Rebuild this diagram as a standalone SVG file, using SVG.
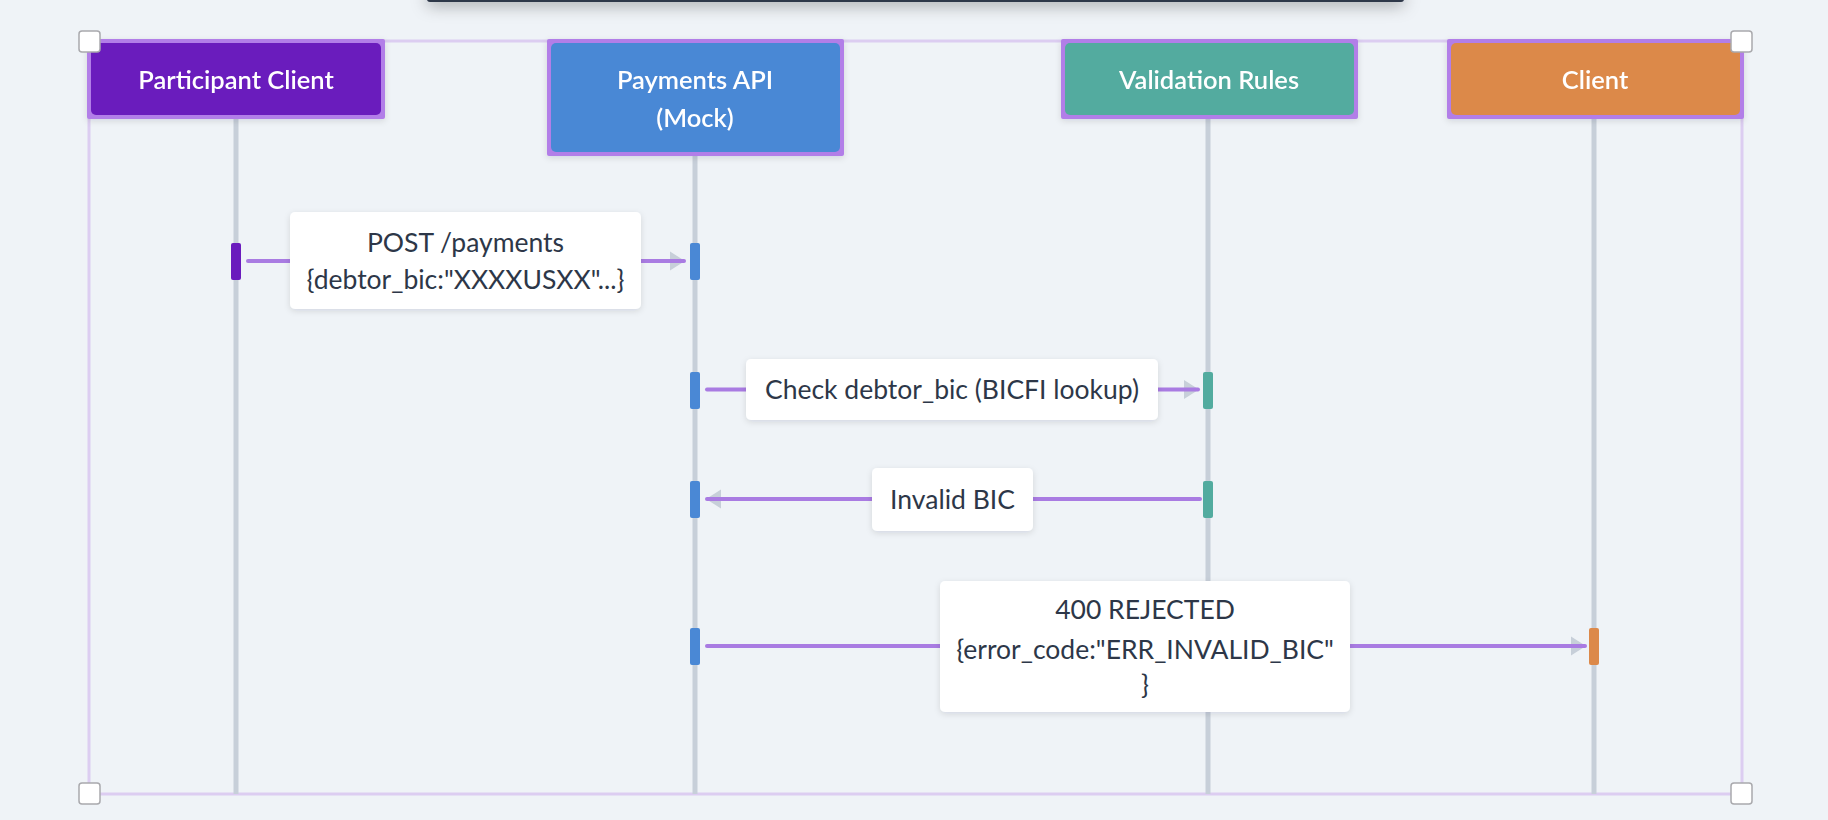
<svg xmlns="http://www.w3.org/2000/svg" width="1828" height="820" viewBox="0 0 1828 820">
<defs>
<filter id="sh" x="-10%" y="-10%" width="120%" height="140%">
<feDropShadow dx="0" dy="2" stdDeviation="3" flood-color="#1a202c" flood-opacity="0.12"/>
</filter>
<filter id="tsh" x="-5%" y="-100%" width="110%" height="500%">
<feDropShadow dx="0" dy="4" stdDeviation="8" flood-color="#000" flood-opacity="0.3"/>
</filter>
<style>
.bg{fill:#eff3f7}
.frame{fill:none;stroke:#dccdf1;stroke-width:3}
.handle{fill:#fff;stroke:#a9a9ad;stroke-width:1.5}
.hdr-border{fill:#b27ee8}
.hdr-text{font-family:Lato,"Open Sans","Liberation Sans",sans-serif;font-size:25.5px;font-weight:600;fill:#fff;text-anchor:middle}
.life{stroke:#c7cfd9;stroke-width:5}
.msg{stroke:#a97be2;stroke-width:4;stroke-linecap:round;fill:none}
.head{fill:#c7cfd9}
.lbl{fill:#fff;filter:url(#sh)}
.lbl-text{font-family:Lato,"Open Sans","Liberation Sans",sans-serif;font-size:26.5px;fill:#2d3748;text-anchor:middle}
</style>
</defs>
<rect class="bg" x="0" y="0" width="1828" height="820"/>
<rect x="427" y="-12" width="977" height="14" rx="3" fill="#2d3748" filter="url(#tsh)"/>
<rect class="frame" x="89" y="41" width="1653" height="753"/>
<g id="lifelines">
<line class="life" x1="236" y1="118" x2="236" y2="794"/>
<line class="life" x1="695" y1="155" x2="695" y2="794"/>
<line class="life" x1="1208" y1="118" x2="1208" y2="794"/>
<line class="life" x1="1594" y1="118" x2="1594" y2="794"/>
</g>
<g id="participant-client" filter="url(#sh)">
<rect class="hdr-border" x="87" y="39" width="298" height="80" rx="2"/>
<rect x="91" y="43" width="290" height="72" rx="5" fill="#6a1bbd"/>
<text class="hdr-text" x="236" y="88.5">Participant Client</text>
</g>
<g id="payments-api" filter="url(#sh)">
<rect class="hdr-border" x="547" y="39" width="297" height="117" rx="2"/>
<rect x="551" y="43" width="289" height="109" rx="5" fill="#4a88d5"/>
<text class="hdr-text" x="695" y="88.5">Payments API</text>
<text class="hdr-text" x="695" y="127">(Mock)</text>
</g>
<g id="validation-rules" filter="url(#sh)">
<rect class="hdr-border" x="1061" y="39" width="297" height="80" rx="2"/>
<rect x="1065" y="43" width="289" height="72" rx="5" fill="#52ab9f"/>
<text class="hdr-text" x="1209" y="88.5">Validation Rules</text>
</g>
<g id="client" filter="url(#sh)">
<rect class="hdr-border" x="1447" y="39" width="297" height="80" rx="2"/>
<rect x="1451" y="43" width="289" height="72" rx="5" fill="#dc894a"/>
<text class="hdr-text" x="1595" y="88.5">Client</text>
</g>
<g id="activations">
<rect x="231" y="243" width="10" height="37" rx="2" fill="#6a1bbd"/>
<rect x="690" y="243" width="10" height="37" rx="2" fill="#4a88d5"/>
<rect x="690" y="372" width="10" height="37" rx="2" fill="#4a88d5"/>
<rect x="1203" y="372" width="10" height="37" rx="2" fill="#52ab9f"/>
<rect x="690" y="481" width="10" height="37" rx="2" fill="#4a88d5"/>
<rect x="1203" y="481" width="10" height="37" rx="2" fill="#52ab9f"/>
<rect x="690" y="628" width="10" height="37" rx="2" fill="#4a88d5"/>
<rect x="1589" y="628" width="10" height="37" rx="2" fill="#dc894a"/>
</g>
<g id="connectors">
<polygon class="head" points="670,251.5 685,261 670,270.5"/>
<line class="msg" x1="248" y1="261" x2="684" y2="261"/>
<polygon class="head" points="1184,380 1199,389.5 1184,399"/>
<line class="msg" x1="707" y1="389.5" x2="1198" y2="389.5"/>
<polygon class="head" points="721,489.5 706,499 721,508.5"/>
<line class="msg" x1="1200" y1="499" x2="707" y2="499"/>
<polygon class="head" points="1571,636.5 1586,646 1571,655.5"/>
<line class="msg" x1="707" y1="646" x2="1585" y2="646"/>
</g>
<g id="label-post">
<rect class="lbl" x="290" y="212" width="351" height="97" rx="5"/>
<text class="lbl-text" x="465.5" y="252">POST /payments</text>
<text class="lbl-text" x="465.5" y="289">{debtor_bic:"XXXXUSXX"...}</text>
</g>
<g id="label-check">
<rect class="lbl" x="746" y="359" width="412" height="61" rx="5"/>
<text class="lbl-text" x="952" y="399">Check debtor_bic (BICFI lookup)</text>
</g>
<g id="label-invalid">
<rect class="lbl" x="872" y="468" width="161" height="63" rx="5"/>
<text class="lbl-text" x="952.5" y="508.5">Invalid BIC</text>
</g>
<g id="label-rejected">
<rect class="lbl" x="940" y="581" width="410" height="131" rx="5"/>
<text class="lbl-text" x="1145" y="619">400 REJECTED</text>
<text class="lbl-text" x="1145" y="658.5">{error_code:"ERR_INVALID_BIC"</text>
<text class="lbl-text" x="1145" y="694">}</text>
</g>
<g id="handles">
<rect class="handle" x="79" y="31" width="21" height="21" rx="3"/>
<rect class="handle" x="1731" y="31" width="21" height="21" rx="3"/>
<rect class="handle" x="79" y="783" width="21" height="21" rx="3"/>
<rect class="handle" x="1731" y="783" width="21" height="21" rx="3"/>
</g>
</svg>
